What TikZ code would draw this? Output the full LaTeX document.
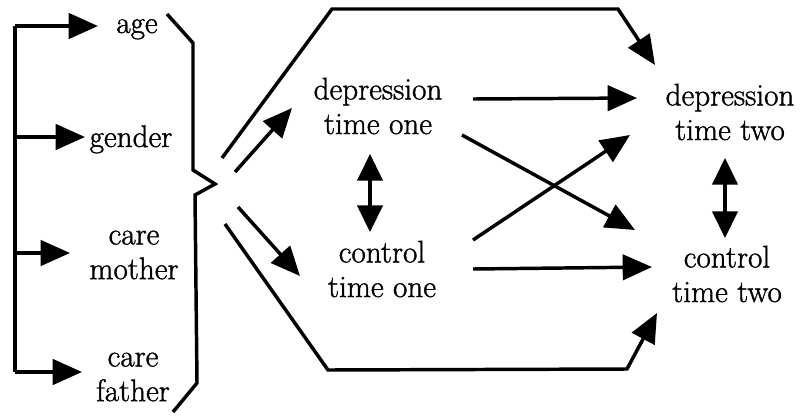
\documentclass[tikz,border=0pt]{standalone}
\usepackage{fontspec}
\newfontfamily\lblfont{Latin Modern Roman}[UprightFeatures={FakeBold=1.2}]
\usetikzlibrary{arrows.meta}
\begin{document}
\begin{tikzpicture}[x=0.75pt,y=-0.75pt,
  ln/.style={line width=2.6pt, line join=miter},
  arr/.style={ln, -{Triangle[length=22pt,width=19pt]}},
  darr/.style={ln, {Triangle[length=20pt,width=19pt]}-{Triangle[length=20pt,width=19pt]}},
  lbl/.style={inner sep=0pt, align=center, font=\lblfont\fontsize{23.4}{26}\selectfont}]
\useasboundingbox (0,0) rectangle (804,415);
% labels
\node[lbl, anchor=base] (age) at (137,33) {age};
\node[lbl, anchor=base] (gender) at (131,147) {gender};
\node[lbl] (mother) at (134,255) {care\\mother};
\node[lbl] (father) at (133,377) {care\\father};
\node[lbl] (d1) at (378,106) {depression\\time one};
\node[lbl] (c1) at (382,269) {control\\time one};
\node[lbl] (d2) at (730,112) {depression\\time two};
\node[lbl] (c2) at (727,274) {control\\time two};
% left bracket line and arrows
\coordinate (lt) at (15,26);
\coordinate (lb) at (15,372);
\coordinate (ag) at (98,26);
\coordinate (ge) at (85,137);
\coordinate (mo) at (70,253);
\coordinate (fa) at (82,372);
\draw[ln] (lt) -- (lb);
\draw[arr] (lt) -- (ag);
\draw[arr] (15,137) -- (ge);
\draw[arr] (15,253) -- (mo);
\draw[arr] (lb) -- (fa);
% brace
\draw[ln] (167,14) -- (193,43) -- (193,170) -- (215,184) -- (195,195) -- (197,383) -- (173,412);
% top and bottom paths
\coordinate (tp) at (222,158);
\coordinate (tt) at (655,65);
\coordinate (bp) at (225,224);
\coordinate (bt) at (657,313);
\draw[arr] (tp) -- (332,9) -- (618,9) -- (tt);
\draw[arr] (bp) -- (328,370) -- (627,369) -- (bt);
% brace to time one
\coordinate (bd) at (235,172);
\coordinate (bc) at (238,207);
\coordinate (d1w) at (292,108);
\coordinate (c1w) at (300,276);
\draw[arr] (bd) -- (d1w);
\draw[arr] (bc) -- (c1w);
% double arrows
\coordinate (d1s) at (370,154);
\coordinate (c1n) at (370,232);
\draw[darr] (d1s) -- (c1n);
\coordinate (d2s) at (725,158);
\coordinate (c2n) at (725,238);
\draw[darr] (d2s) -- (c2n);
% time one to time two
\coordinate (d1e) at (473,99);
\coordinate (d2w) at (637,98);
\coordinate (c1e) at (473,269);
\coordinate (c2w) at (652,267);
\coordinate (d1x) at (462,135);
\coordinate (c2x) at (635,230);
\coordinate (c1x) at (473,240);
\coordinate (d2x) at (630,135);
\draw[arr] (d1e) -- (d2w);
\draw[arr] (c1e) -- (c2w);
\draw[arr] (d1x) -- (c2x);
\draw[arr] (c1x) -- (d2x);
\end{tikzpicture}
\end{document}
